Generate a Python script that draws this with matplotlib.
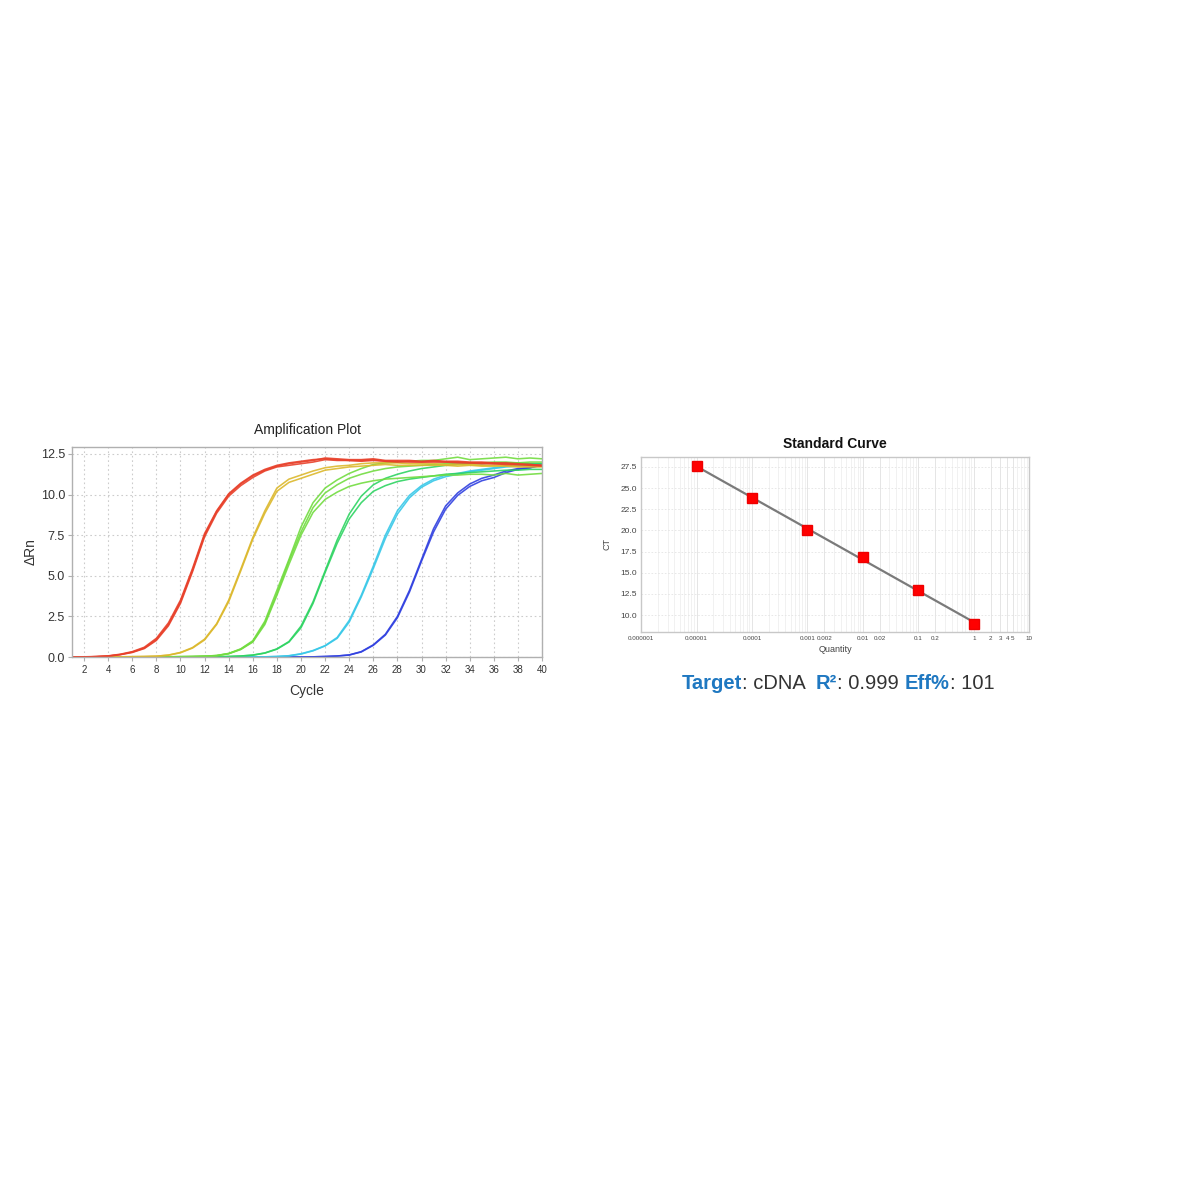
import matplotlib
matplotlib.use("Agg")
import matplotlib.pyplot as plt
import numpy as np
from matplotlib.ticker import FixedLocator, NullFormatter, LogLocator

plt.rcParams['font.family'] = ['Liberation Sans Narrow', 'Liberation Sans', 'DejaVu Sans']

# ---------------- Amplification plot data ----------------
cycles = list(range(1, 41))

red_a = [0.00, 0.00, 0.02, 0.06, 0.15, 0.30, 0.55, 1.08, 2.00, 3.40,
         5.35, 7.50, 8.95, 10.00, 10.65, 11.15, 11.50, 11.75, 11.90, 12.00,
         12.10, 12.25, 12.20, 12.15, 12.15, 12.20, 12.10, 12.10, 12.10, 12.05,
         12.10, 12.05, 12.05, 12.00, 12.00, 11.95, 11.95, 11.90, 11.85, 11.80]
red_b = [0.00, 0.00, 0.02, 0.05, 0.14, 0.28, 0.52, 1.02, 1.92, 3.30,
         5.25, 7.40, 8.85, 9.90, 10.55, 11.05, 11.45, 11.70, 11.80, 11.90,
         12.00, 12.15, 12.10, 12.10, 12.05, 12.10, 12.05, 12.00, 12.05, 12.00,
         12.00, 12.00, 11.95, 11.95, 11.90, 11.90, 11.85, 11.85, 11.80, 11.75]
red_c = [0.00, 0.01, 0.03, 0.07, 0.17, 0.33, 0.60, 1.15, 2.10, 3.50,
         5.45, 7.60, 9.00, 10.05, 10.70, 11.20, 11.55, 11.80, 11.95, 12.05,
         12.15, 12.20, 12.15, 12.10, 12.10, 12.15, 12.05, 12.05, 12.00, 12.00,
         12.05, 12.00, 12.00, 11.95, 11.95, 11.90, 11.90, 11.85, 11.85, 11.80]

yellow_a = [0.00, 0.00, 0.00, 0.00, 0.01, 0.02, 0.03, 0.05, 0.12, 0.28,
            0.58, 1.10, 2.05, 3.50, 5.40, 7.35, 9.00, 10.40, 10.95, 11.20,
            11.45, 11.65, 11.75, 11.80, 11.90, 11.95, 11.95, 11.95, 11.90, 11.90,
            11.90, 11.85, 11.85, 11.85, 11.80, 11.80, 11.80, 11.75, 11.75, 11.75]
yellow_b = [0.00, 0.00, 0.00, 0.00, 0.01, 0.02, 0.03, 0.05, 0.11, 0.26,
            0.55, 1.05, 2.00, 3.40, 5.30, 7.25, 8.85, 10.20, 10.75, 11.00,
            11.25, 11.50, 11.60, 11.70, 11.75, 11.80, 11.85, 11.80, 11.80, 11.80,
            11.80, 11.80, 11.75, 11.80, 11.75, 11.75, 11.75, 11.70, 11.70, 11.70]

lgreen_a = [0.00, 0.00, 0.00, 0.00, 0.00, 0.00, 0.00, 0.01, 0.01, 0.02,
            0.03, 0.05, 0.09, 0.22, 0.50, 1.00, 2.20, 4.10, 6.00, 8.00,
            9.50, 10.40, 10.90, 11.30, 11.60, 11.85, 11.95, 12.00, 12.05, 12.10,
            12.10, 12.20, 12.30, 12.15, 12.20, 12.25, 12.30, 12.20, 12.25, 12.20]
lgreen_b = [0.00, 0.00, 0.00, 0.00, 0.00, 0.00, 0.00, 0.01, 0.01, 0.02,
            0.03, 0.05, 0.09, 0.21, 0.48, 0.95, 2.10, 3.90, 5.90, 7.70,
            9.20, 10.10, 10.60, 11.00, 11.25, 11.45, 11.60, 11.70, 11.75, 11.80,
            11.85, 11.90, 11.95, 11.95, 11.95, 12.00, 12.00, 11.95, 12.00, 12.00]
lgreen_c = [0.00, 0.00, 0.00, 0.00, 0.00, 0.00, 0.00, 0.01, 0.01, 0.02,
            0.03, 0.05, 0.08, 0.20, 0.46, 0.92, 2.00, 3.80, 5.70, 7.50,
            8.90, 9.70, 10.15, 10.50, 10.70, 10.85, 10.95, 11.00, 11.05, 11.10,
            11.15, 11.20, 11.20, 11.25, 11.25, 11.20, 11.30, 11.20, 11.25, 11.30]

green_a = [0.00, 0.00, 0.00, 0.00, 0.00, 0.00, 0.00, 0.00, 0.00, 0.00,
           0.00, 0.00, 0.01, 0.03, 0.06, 0.12, 0.25, 0.50, 0.95, 1.90,
           3.40, 5.30, 7.20, 8.80, 9.90, 10.60, 11.00, 11.25, 11.45, 11.60,
           11.70, 11.80, 11.85, 11.90, 11.90, 11.95, 11.95, 11.95, 11.90, 11.90]
green_b = [0.00, 0.00, 0.00, 0.00, 0.00, 0.00, 0.00, 0.00, 0.00, 0.00,
           0.00, 0.00, 0.01, 0.03, 0.06, 0.11, 0.24, 0.48, 0.92, 1.80,
           3.30, 5.20, 7.00, 8.50, 9.50, 10.20, 10.55, 10.80, 10.95, 11.05,
           11.15, 11.25, 11.30, 11.35, 11.40, 11.45, 11.50, 11.50, 11.55, 11.55]

cyan_a = [0.00, 0.00, 0.00, 0.00, 0.00, 0.00, 0.00, 0.00, 0.00, 0.00,
          0.00, 0.00, 0.00, 0.00, 0.00, 0.00, 0.01, 0.03, 0.08, 0.20,
          0.40, 0.70, 1.20, 2.25, 3.80, 5.60, 7.50, 9.00, 9.95, 10.55,
          10.95, 11.20, 11.30, 11.45, 11.55, 11.65, 11.75, 11.80, 11.85, 11.90]
cyan_b = [0.00, 0.00, 0.00, 0.00, 0.00, 0.00, 0.00, 0.00, 0.00, 0.00,
          0.00, 0.00, 0.00, 0.00, 0.00, 0.00, 0.01, 0.03, 0.07, 0.18,
          0.38, 0.68, 1.15, 2.15, 3.70, 5.45, 7.30, 8.80, 9.80, 10.45,
          10.85, 11.10, 11.25, 11.40, 11.50, 11.60, 11.70, 11.75, 11.80, 11.85]

blue_a = [0.00, 0.00, 0.00, 0.00, 0.00, 0.00, 0.00, 0.00, 0.00, 0.00,
          0.00, 0.00, 0.00, 0.00, 0.00, 0.00, 0.00, 0.00, 0.00, 0.00,
          0.01, 0.03, 0.06, 0.13, 0.33, 0.75, 1.40, 2.50, 4.10, 6.00,
          7.90, 9.30, 10.10, 10.65, 11.00, 11.20, 11.45, 11.60, 11.65, 11.85]
blue_b = [0.00, 0.00, 0.00, 0.00, 0.00, 0.00, 0.00, 0.00, 0.00, 0.00,
          0.00, 0.00, 0.00, 0.00, 0.00, 0.00, 0.00, 0.00, 0.00, 0.00,
          0.01, 0.03, 0.06, 0.12, 0.31, 0.72, 1.35, 2.42, 4.00, 5.90,
          7.70, 9.10, 9.95, 10.50, 10.85, 11.05, 11.35, 11.55, 11.65, 11.80]

amp_groups = [
    ("#3040e0", [blue_a, blue_b]),
    ("#38c8e8", [cyan_a, cyan_b]),
    ("#2ed462", [green_a, green_b]),
    ("#72dc40", [lgreen_a, lgreen_b, lgreen_c]),
    ("#dcb82c", [yellow_a, yellow_b]),
    ("#e8402a", [red_a, red_b, red_c]),
]
amp_xticks = list(range(2, 41, 2))
amp_yticks = [0.0, 2.5, 5.0, 7.5, 10.0, 12.5]

# ---------------- Standard curve data ----------------
quantity = [1e-5, 1e-4, 1e-3, 1e-2, 1e-1, 1.0]
ct_values = [27.6, 23.8, 20.0, 16.85, 13.0, 8.95]
sc_xtick_pos = [1e-6, 1e-5, 1e-4, 1e-3, 2e-3, 1e-2, 2e-2, 0.1, 0.2, 1, 2, 3, 4, 5, 10]
sc_xtick_lab = ["0.000001", "0.00001", "0.0001", "0.001", "0.002", "0.01", "0.02",
                "0.1", "0.2", "1", "2", "3", "4", "5", "10"]
sc_yticks = [10.0, 12.5, 15.0, 17.5, 20.0, 22.5, 25.0, 27.5]

fig = plt.figure(figsize=(12, 12), dpi=100)

# ---------------- Amplification plot ----------------
ax1 = fig.add_axes([0.060, 0.4525, 0.3917, 0.1753])
for color, reps in amp_groups:
    for r in reps:
        ax1.plot(cycles, r, color=color, lw=1.15, alpha=0.9, solid_joinstyle='round')
ax1.set_xlim(1, 40)
ax1.set_ylim(0, 12.95)
ax1.set_xticks(amp_xticks)
ax1.set_yticks(amp_yticks)
ax1.set_yticklabels([f"{v:.1f}" for v in amp_yticks])
ax1.grid(True, color="#cccccc", linestyle=(0, (1.5, 2.5)), lw=0.8)
ax1.set_axisbelow(True)
for s in ax1.spines.values():
    s.set_color("#b0b0b0")
    s.set_linewidth(1.0)
ax1.tick_params(axis='x', labelsize=7, colors="#333333", length=3, color="#b0b0b0", pad=3)
ax1.tick_params(axis='y', labelsize=9, colors="#333333", length=3, color="#b0b0b0", pad=2)
ax1.set_title("Amplification Plot", fontsize=10, color="#222222", pad=9)
ax1.set_xlabel("Cycle", fontsize=10, color="#333333", labelpad=6)
ax1.set_ylabel("ΔRn", fontsize=10, color="#333333", labelpad=2)

# ---------------- Standard curve ----------------
ax2 = fig.add_axes([0.5342, 0.4733, 0.3236, 0.1461])
ax2.set_xscale('log')
ax2.set_xlim(1e-6, 10)
ax2.set_ylim(8.0, 28.7)
ax2.xaxis.set_major_locator(FixedLocator(sc_xtick_pos))
ax2.set_xticklabels(sc_xtick_lab)
ax2.xaxis.set_minor_locator(LogLocator(base=10, subs=np.arange(2, 10), numticks=20))
ax2.xaxis.set_minor_formatter(NullFormatter())
ax2.set_yticks(sc_yticks)
ax2.set_yticklabels([f"{v:.1f}" for v in sc_yticks])
ax2.grid(True, which='major', axis='x', color="#e0e0e0", lw=0.6)
ax2.grid(True, which='minor', axis='x', color="#ececec", lw=0.5)
ax2.grid(True, which='major', axis='y', color="#e4e4e4", lw=0.6, linestyle=(0, (2, 2)))
ax2.set_axisbelow(True)
for s in ax2.spines.values():
    s.set_color("#c8c8c8")
    s.set_linewidth(1.0)
ax2.tick_params(axis='x', which='both', length=0, labelsize=4.5, colors="#444444", pad=3)
ax2.tick_params(axis='y', length=0, labelsize=6, colors="#444444", pad=3)

coef = np.polyfit(np.log10(quantity), ct_values, 1)
qline = np.array([quantity[0], quantity[-1]])
ax2.plot(qline, np.polyval(coef, np.log10(qline)), color="#7a7a7a", lw=1.6, zorder=3)
ax2.plot(quantity, ct_values, linestyle='none', marker='s', markersize=6.5,
         color="#ff0000", markeredgecolor="#ee0000", zorder=4)
ax2.set_title("Standard Curve", fontsize=10, fontweight='bold', color="#111111", pad=6,
              family=['Liberation Sans', 'DejaVu Sans'])
ax2.set_xlabel("Quantity", fontsize=6.5, color="#444444", labelpad=3)
ax2.set_ylabel("CT", fontsize=6.5, color="#444444", labelpad=6)

# ---------------- Summary line ----------------
segments = [("Target", "#1f78c1", "bold"), (": cDNA  ", "#333333", "normal"),
            ("R²", "#1f78c1", "bold"), (": 0.999 ", "#333333", "normal"),
            ("Eff%", "#1f78c1", "bold"), (": 101", "#333333", "normal")]
renderer = fig.canvas.get_renderer()
texts = []
y_fig = 1 - 689 / 1200
for s, c, w in segments:
    t = fig.text(0, y_fig, s, color=c, fontweight=w, fontsize=14.5,
                 family=['Liberation Sans', 'DejaVu Sans'], va='baseline', ha='left')
    texts.append(t)
widths = [t.get_window_extent(renderer).width for t in texts]
total = sum(widths)
start = 838 - total / 2
for t, wd in zip(texts, widths):
    t.set_x(start / 1200)
    start += wd

fig.savefig("out.png", dpi=100, facecolor="white")
